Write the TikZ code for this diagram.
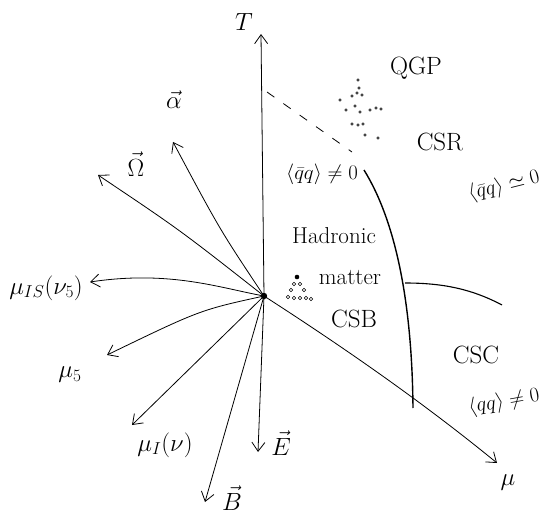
\documentclass[tikz,border=0pt]{standalone}
\usetikzlibrary{arrows.meta}
\begin{document}
\begin{tikzpicture}[x=1pt,y=-1pt,
  axis/.style={line width=0.8pt,-{Straight Barb[length=9pt,width=13pt]}},
  lab/.style={font=\fontsize{25}{29}\selectfont, inner sep=0pt},
  txt/.style={font=\fontsize{23}{27}\selectfont, inner sep=0pt},
  cnd/.style={font=\fontsize{21}{25}\selectfont, inner sep=0pt},
  bnd/.style={line width=1.4pt},
  speck/.style={line width=0.6pt}]
\useasboundingbox (0,0) rectangle (555,527);
\fill[white] (0,0) rectangle (555,527);

% origin
\coordinate (O) at (264,296);
\fill (O) circle (3.2pt);

% axis tips
\coordinate (tT) at (261,34);
\coordinate (tA) at (173,142);
\coordinate (tOm) at (98,175);
\coordinate (tIS) at (90,282);
\coordinate (t5) at (107,355);
\coordinate (tI) at (132,425);
\coordinate (tB) at (205,502);
\coordinate (tE) at (258,452);
\coordinate (tMu) at (497,463);

\draw[axis] (O) -- (tT);
\draw[axis] (O) .. controls (220,230) .. (tA);
\draw[axis] (O) .. controls (180,230) .. (tOm);
\draw[axis] (O) .. controls (220,288) and (170,270) .. (tIS);
\draw[axis] (O) .. controls (200,310) .. (t5);
\draw[axis] (O) -- (tI);
\draw[axis] (O) -- (tB);
\draw[axis] (O) -- (tE);
\draw[axis] (O) .. controls (340,345) and (420,400) .. (tMu);

% labels
\node[lab] (lT) at (244,22) {$T$};
\node[lab] (lA) at (174,100) {$\vec{\alpha}$};
\node[lab] (lOm) at (136,164) {$\vec{\Omega}$};
\node[lab] (lIS) at (46,288) {$\mu_{IS}(\nu_5)$};
\node[lab] (l5) at (70,375) {$\mu_5$};
\node[lab] (lI) at (165,445) {$\mu_I(\nu)$};
\node[lab] (lB) at (232,498) {$\vec{B}$};
\node[lab] (lE) at (281,443) {$\vec{E}$};
\node[lab] (lMu) at (508,483) {$\mu$};

% crossover (dashed)
\coordinate (d1) at (267,92);
\coordinate (d2) at (352,152);
\draw[line width=0.8pt, dash pattern=on 9pt off 11pt] (d1) -- (d2);

% critical region specks
\foreach \p in {(358,80),(359,88),(352,96),(357,93),(362,95),(346,110),(355,106),(360,112),(370,110),(376,108),(381,109),(352,124),(358,125),(363,124),(365,135),(378,138),(340,100)}
  \draw[speck] \p circle (1.3pt);

% phase boundary
\coordinate (b0) at (364,170);
\coordinate (b1) at (413,408);
\draw[bnd] (b0) .. controls (395,220) and (412,300) .. (b1);
\coordinate (h0) at (405,283);
\coordinate (h1) at (502,305);
\draw[line width=1.1pt] (h0) .. controls (440,283) and (470,288) .. (h1);

% nuclei cluster
\fill (297,277) circle (2.3pt);
\foreach \p in {(294,284),(300,284),(291,290),(304,290),(288,297),(294,298),(300,298),(306,298),(311,299)}
  \draw[speck] \p circle (1.8pt);

% region texts
\node[lab] (qgp) at (416,68) {QGP};
\node[lab] (csr) at (440,142) {CSR};
\node[cnd] (cond1) at (322,174) {$\langle\bar{q}q\rangle\neq 0$};
\node[cnd, rotate=14] (cond2) at (504,186) {$\langle\bar{q}q\rangle\simeq 0$};
\node[txt] (had) at (334,236) {Hadronic};
\node[txt] (mat) at (350,278) {matter};
\node[lab] (csb) at (354,319) {CSB};
\node[lab] (csc) at (476,355) {CSC};
\node[cnd, rotate=10] (cond3) at (504,402) {$\langle qq\rangle\neq 0$};
\end{tikzpicture}
\end{document}
